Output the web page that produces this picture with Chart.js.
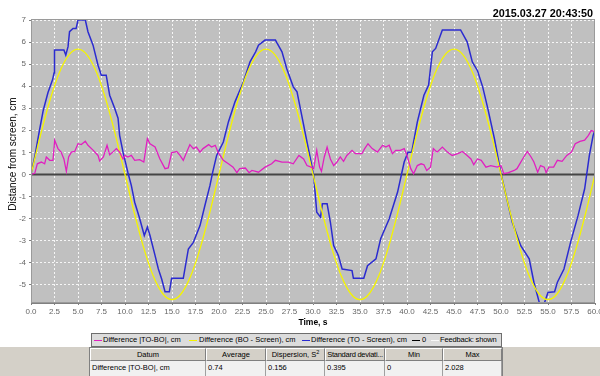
<!DOCTYPE html>
<html><head><meta charset="utf-8">
<script src="https://cdn.jsdelivr.net/npm/chart.js@4"></script>
<style>
html,body{margin:0;padding:0;background:#fff;}
body{width:600px;height:376px;position:relative;overflow:hidden;font-family:"Liberation Sans",Arial,sans-serif;}
#c{position:absolute;left:0;top:0;}
#stamp{position:absolute;right:7px;top:7px;font-weight:bold;font-size:10.8px;line-height:12px;color:#000;white-space:nowrap;}
#ytitle{position:absolute;left:-57px;top:148px;width:140px;height:12px;line-height:12px;text-align:center;font-size:10px;color:#000;transform:rotate(-90deg);transform-origin:50% 50%;white-space:nowrap;}
#legend{position:absolute;left:91px;top:333px;width:409px;height:12px;border:1px solid #6e6e6e;background:#dcdcdc;font-size:7.5px;color:#000;overflow:hidden;}
.li{position:absolute;top:0;height:12px;line-height:12px;white-space:nowrap;}
.sw{position:absolute;top:6px;height:1px;width:8px;}
#bottom{position:absolute;left:0;top:347px;width:600px;height:29px;background:#d4d0c8;}
.cell{position:absolute;box-sizing:border-box;font-size:7.5px;white-space:nowrap;overflow:hidden;}
.hd{top:1px;height:13px;line-height:12px;text-align:center;background:#d4d0c8;border-top:1px solid #fff;border-left:1px solid #fff;border-right:1px solid #808080;border-bottom:1px solid #808080;}
.dt{top:14px;height:15px;line-height:14px;text-align:left;padding-left:2px;background:#f1f1f1;border-right:1px solid #a0a0a0;}
sup{font-size:5.5px;line-height:0;}
</style>
</head><body>
<canvas id="c" width="600" height="376"></canvas>
<div id="stamp">2015.03.27 20:43:50</div>
<div id="ytitle">Distance from screen, cm</div>
<div id="legend">
  <div class="sw" style="left:2px;background:#e020c0"></div><div class="li" style="left:11px">Difference |TO-BO|, cm</div>
  <div class="sw" style="left:97px;background:#f4f400"></div><div class="li" style="left:107px">Difference (BO - Screen), cm</div>
  <div class="sw" style="left:210px;background:#2b2bd0"></div><div class="li" style="left:219px">Difference (TO - Screen), cm</div>
  <div class="sw" style="left:320px;background:#000;height:1px;top:6px"></div><div class="li" style="left:330px">0</div>
  <div class="sw" style="left:339px;background:#f8f8f8"></div><div class="li" style="left:348px;letter-spacing:-0.15px">Feedback: shown</div>
</div>
<div id="bottom">
  <div style="position:absolute;left:89px;top:0;width:414px;height:29px;background:#808080;"></div>
  <div class="cell hd" style="left:90px;width:116px">Datum</div>
  <div class="cell hd" style="left:206px;width:60px">Average</div>
  <div class="cell hd" style="left:266px;width:59px">Dispersion, S<sup>2</sup></div>
  <div class="cell hd" style="left:325px;width:60px;letter-spacing:-0.25px">Standard deviati...</div>
  <div class="cell hd" style="left:385px;width:58px">Min</div>
  <div class="cell hd" style="left:443px;width:59px">Max</div>
  <div class="cell dt" style="left:90px;width:116px">Difference |TO-BO|, cm</div>
  <div class="cell dt" style="left:206px;width:60px">0.74</div>
  <div class="cell dt" style="left:266px;width:59px">0.156</div>
  <div class="cell dt" style="left:325px;width:60px">0.395</div>
  <div class="cell dt" style="left:385px;width:58px">0</div>
  <div class="cell dt" style="left:443px;width:59px">2.028</div>
</div>
<script>
// ---- data ----
const timeTickValues = [0,2.5,5,7.5,10,12.5,15,17.5,20,22.5,25,27.5,30,32.5,35,37.5,40,42.5,45,47.5,50,52.5,55,57.5,60];
const distTickValues = [-5,-4,-3,-2,-1,0,1,2,3,4,5,6,7];

// Difference |TO-BO|, cm  (magenta)
const toBoTime = [0,0.4,0.67,1.1,1.45,1.63,1.99,2.34,2.52,2.87,
 3.2,3.5,3.76,4.0,4.3,4.65,5.0,5.35,5.78,6.06,
 6.6,7.13,7.3,7.7,8.09,8.37,8.7,9.08,9.43,9.79,
 10.0,10.3,10.67,11.03,11.56,12.0,12.38,12.66,13.2,13.7,
 14.26,14.6,14.96,15.5,15.85,16.2,16.56,16.9,17.27,17.6,
 17.98,18.3,18.9,19.2,19.6,19.9,20.46,21.0,21.5,21.9,
 22.2,22.8,23.2,23.5,23.9,24.2,24.9,25.6,26.0,26.7,
 27.4,27.9,28.5,29.0,29.36,29.8,30.07,30.4,30.7,30.9,
 31.2,31.5,31.85,32.2,32.55,32.9,33.25,33.6,34.15,34.5,
 35.2,35.5,35.85,36.3,36.85,37.4,37.75,38.1,38.45,38.8,
 39.3,39.7,40.0,40.4,40.7,41.1,41.5,41.8,42.1,42.5,
 42.8,43.2,43.76,44.3,44.8,45.4,45.9,46.4,46.8,47.1,
 47.5,47.9,48.4,48.9,49.6,50.0,50.3,50.8,51.4,51.7,
 52.3,52.8,53.2,53.5,53.9,54.2,54.6,54.8,55.1,55.6,
 56.0,56.5,57.0,57.5,57.9,58.4,58.9,59.3,59.6,59.9,
 60];
const toBoDiff = [0,0.05,0.48,0.56,0.48,0.79,0.64,0.64,1.55,1.17,
 1.01,0.7,0.14,0.79,1.01,1.04,1.39,1.35,1.5,1.32,
 1.1,0.86,0.61,0.79,1.32,0.89,1.01,1.17,1.01,0.7,
 0.86,0.79,0.86,0.64,0.67,0.56,1.62,1.39,1.24,0.71,
 0.26,0.29,0.98,1.04,0.86,0.64,1.01,1.35,1.17,1.24,
 1.01,1.17,1.35,1.24,1.32,1.01,0.64,0.48,0.33,0.08,
 0.26,0.29,0.08,0.18,0.14,0.1,0.33,0.48,0.64,0.56,
 0.56,0.48,0.86,0.7,0.4,0.33,0.26,1.09,0.33,0.14,
 0.79,1.24,0.7,0.4,0.56,0.79,0.59,0.86,1.09,0.94,
 0.94,1.17,1.39,1.17,1.01,1.32,1.24,1.32,0.94,1.09,
 1.09,1.17,0.86,0.26,0.03,0.4,0.48,0.44,0.18,0.33,
 1.17,1.01,1.24,1.01,0.86,0.94,1.04,0.86,0.7,0.44,
 0.7,0.64,0.33,0.4,0.33,0.4,0.03,0.08,0.18,0.26,
 0.7,1.04,0.79,0.56,0.1,0.4,0.33,0.08,0.33,0.33,
 0.64,0.59,0.86,1.01,1.39,1.5,1.55,1.77,1.99,1.95,
 1.85];

// Difference (BO - Screen), cm  (yellow), read every 1 s
const boTime = [0,1,2,3,4,5,6,7,8,9,10,11,12,13,14,15,16,17,18,19,
 20,21,22,23,24,25,26,27,28,29,30,31,32,33,34,35,36,37,38,39,
 40,41,42,43,44,45,46,47,48,49,50,51,52,53,54,55,56,57,58,59,60];
const boDiff = [0,1.76,3.34,4.6,5.4,5.68,5.4,4.6,3.34,1.76,0,-1.76,-3.34,-4.6,-5.4,-5.68,-5.4,-4.6,-3.34,-1.76,
 0,1.76,3.34,4.6,5.4,5.68,5.4,4.6,3.34,1.76,0,-1.76,-3.34,-4.6,-5.4,-5.68,-5.4,-4.6,-3.34,-1.76,
 0,1.76,3.34,4.6,5.4,5.68,5.4,4.6,3.34,1.76,0,-1.76,-3.34,-4.6,-5.4,-5.68,-5.4,-4.6,-3.34,-1.76,0];

// Difference (TO - Screen), cm  (blue)
const toTime = [0,0.4,0.9,1.3,1.8,2.3,2.45,2.5,3.5,3.7,
 3.94,4.1,4.47,4.8,5.0,5.78,6.06,6.6,7.13,7.48,
 8.0,8.37,8.9,9.26,9.43,9.79,10.3,10.67,11.03,11.56,
 12.05,12.38,12.66,13.2,13.55,13.9,14.26,14.72,14.96,16.2,
 16.74,17.27,17.98,18.5,19.04,19.33,19.75,20.46,21.0,21.7,
 22.6,23.3,23.9,24.2,24.9,26.0,26.7,27.2,27.9,28.3,
 28.8,29.36,29.8,30.07,30.25,30.4,30.8,31.0,31.5,31.85,
 32.2,32.7,33.1,34.15,34.3,35.4,35.8,36.7,37.2,38.1,
 39.0,39.7,40.1,40.5,41.1,41.8,42.3,42.7,43.05,43.76,
 45.7,46.4,46.95,47.5,48.05,48.6,49.3,50.0,50.7,51.2,
 52.1,53.0,53.5,54.1,54.6,55.0,55.7,56.0,56.7,57.4,
 58.2,58.9,59.4,59.8,60];
const toDiff = [0,0.8,2.0,2.9,3.7,4.3,4.6,5.64,5.64,5.41,
 5.79,6.47,6.62,6.62,7.0,7.0,6.47,5.86,4.95,4.5,
 4.5,3.59,3.0,2.55,1.77,1.01,0.1,-0.5,-1.26,-2.0,
 -2.77,-2.39,-2.77,-3.68,-4.29,-4.74,-5.32,-5.32,-4.71,-4.71,
 -3.38,-3.08,-2.32,-1.41,-0.5,0.1,0.86,1.47,2.38,3.29,
 4.2,5.1,5.56,5.86,6.09,6.09,5.56,4.8,3.97,3.74,
 2.68,1.47,0.56,-0.05,-0.95,-1.71,-1.94,-1.33,-1.33,-2.17,
 -3.23,-3.68,-4.29,-4.36,-4.71,-4.71,-4.14,-3.83,-2.92,-2.02,
 -0.8,0.56,1.01,1.01,2.38,3.59,4.05,5.56,5.71,6.55,
 6.55,6.01,5.1,4.7,3.97,2.98,1.62,0.03,-1.26,-2.17,
 -3.23,-3.83,-4.89,-5.85,-5.85,-5.35,-5.32,-4.89,-4.29,-3.08,
 -1.86,-0.65,0.86,1.77,2.0];

const zeroTime = [0,60];
const zeroValue = [0,0];

function pts(xs, ys){ const n=Math.min(xs.length, ys.length); const o=[]; for(let i=0;i<n;i++) o.push({x:xs[i], y:ys[i]}); return o; }

const plotBg = {
  id:'plotBg',
  beforeDraw(chart){ const {ctx, chartArea:a} = chart; ctx.save(); ctx.fillStyle='#c0c0c0'; ctx.fillRect(a.left,a.top,a.right-a.left,a.bottom-a.top); ctx.restore(); },
  afterDraw(chart){ const {ctx, chartArea:a} = chart; ctx.save(); ctx.strokeStyle='#9a9a9a'; ctx.lineWidth=1; ctx.strokeRect(a.left+0.5,a.top-0.5,a.right-a.left-1,a.bottom-a.top); ctx.restore(); }
};

new Chart(document.getElementById('c'), {
  type:'line',
  data:{ datasets:[
    {label:'Difference |TO-BO|, cm', data:pts(toBoTime,toBoDiff), borderColor:'#e020c0', borderWidth:1.3, pointRadius:0, tension:0},
    {label:'Difference (BO - Screen), cm', data:pts(boTime,boDiff), borderColor:'#f4f400', borderWidth:1.3, pointRadius:0, cubicInterpolationMode:'monotone'},
    {label:'Difference (TO - Screen), cm', data:pts(toTime,toDiff), borderColor:'#2b2bd0', borderWidth:1.5, pointRadius:0, tension:0},
    {label:'0', data:pts(zeroTime,zeroValue), borderColor:'#454545', borderWidth:2, pointRadius:0},
    {label:'Feedback: shown', data:[], borderColor:'#f8f8f8', borderWidth:1, pointRadius:0}
  ]},
  options:{
    responsive:false, animation:false, events:[],
    layout:{padding:{left:0,top:20,right:5,bottom:46}},
    plugins:{legend:{display:false}, tooltip:{enabled:false}, title:{display:false}},
    scales:{
      x:{type:'linear', min:0, max:60,
        afterBuildTicks(s){ s.ticks = timeTickValues.map(v=>({value:v})); },
        afterFit(s){ s.height=27; s.paddingLeft=0; s.paddingRight=0; },
        ticks:{autoSkip:false, maxRotation:0, padding:2, color:'#666', font:{family:'Liberation Sans', size:8}, callback:v=>Number(v).toFixed(1)},
        grid:{color:'rgba(255,255,255,0.85)', tickLength:2, tickColor:'#808080'},
        border:{color:'#808080', width:1, dash:[2,2]},
        title:{display:true, text:'Time, s', color:'#000', font:{family:'Liberation Sans', size:8.5, weight:'bold'}, padding:{top:0,bottom:2}}
      },
      y:{type:'linear', min:-5.83, max:7,
        afterBuildTicks(s){ s.ticks = distTickValues.map(v=>({value:v})); },
        afterFit(s){ s.width=31; s.paddingTop=0; s.paddingBottom=0; },
        ticks:{autoSkip:false, padding:3, color:'#666', font:{family:'Liberation Sans', size:8}},
        grid:{color:'rgba(255,255,255,0.85)', tickLength:2, tickColor:'#808080'},
        border:{color:'#808080', width:1, dash:[2,2]},
        title:{display:false}
      }
    }
  },
  plugins:[plotBg]
});
</script>
</body></html>
